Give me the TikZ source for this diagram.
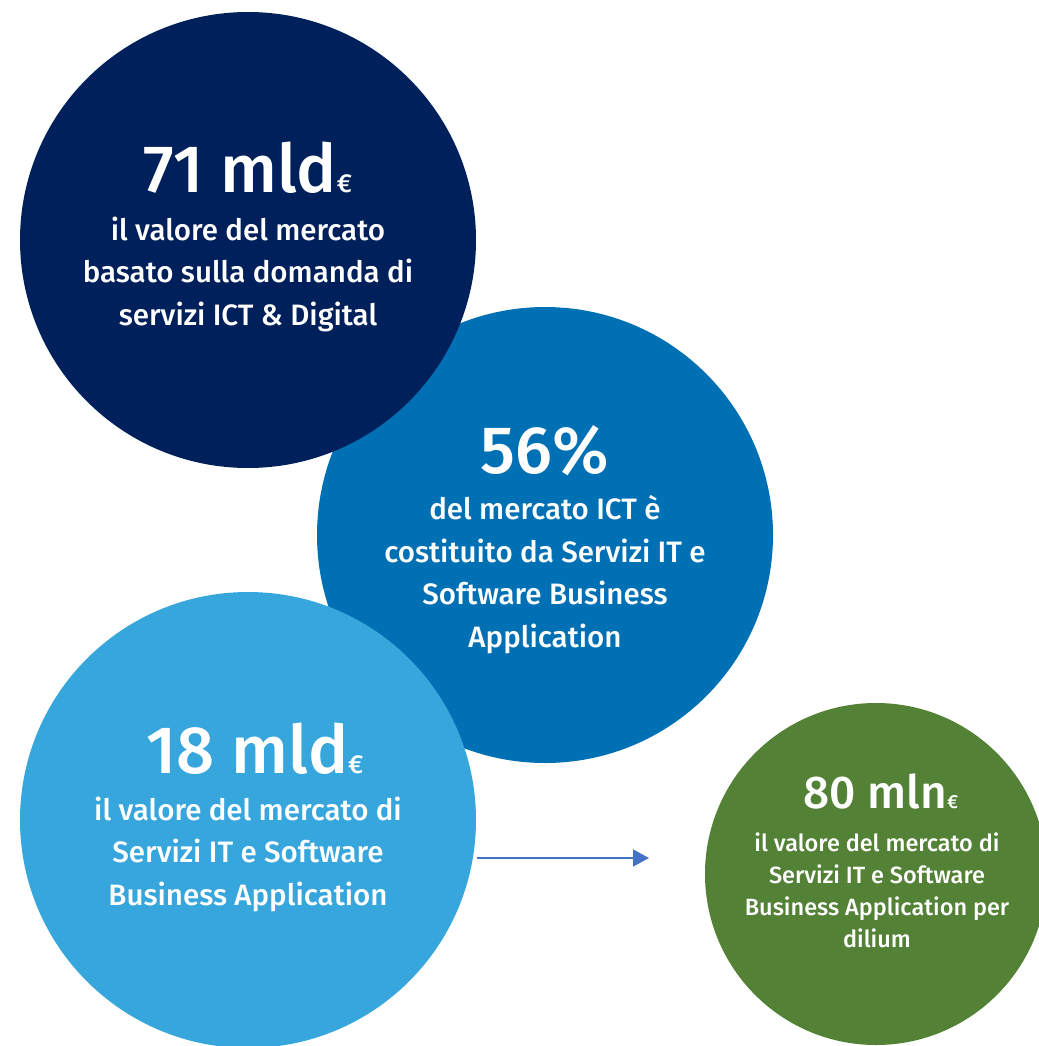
\documentclass[tikz,border=0pt]{standalone}
\usepackage{fontspec}
\setmainfont{Fira Sans}[UprightFont={* Medium}]
\usetikzlibrary{positioning}
\usetikzlibrary{arrows.meta}
\definecolor{navyc}{RGB}{0,32,91}
\definecolor{midblue}{RGB}{0,112,180}
\definecolor{skyblue}{RGB}{54,166,221}
\definecolor{leafgreen}{RGB}{83,129,53}
\definecolor{arrowc}{RGB}{68,114,196}
\tikzset{
	bubble/.style={circle, draw=none, inner sep=0pt, minimum size=456pt},
	bigfig/.style={text=white, inner sep=0pt, anchor=base, font=\fontsize{67}{67}\selectfont},
	smallfig/.style={text=white, inner sep=0pt, anchor=base, font=\fontsize{46}{46}\selectfont},
	bodytxt/.style={text=white, inner sep=0pt, anchor=base, align=center, font=\fontsize{29.5}{42.5}\selectfont},
	smalltxt/.style={text=white, inner sep=0pt, anchor=base, align=center, font=\fontsize{23.5}{32}\selectfont}
}
\newcommand{\eur}[1]{{\fontsize{#1}{#1}\selectfont €}}

\begin{document}
\begin{tikzpicture}[x=1pt,y=1pt]
	\useasboundingbox (0,0) rectangle (1038,-1046);

	\node[bubble, fill=midblue] at (545,-535) (ict) {};
	\node[bubble, fill=navyc] at (248,-240) (mkt) {};
	\node[bubble, fill=skyblue] at (248,-820) (srv) {};
	\node[bubble, fill=leafgreen, minimum size=342pt] at (876,-874) (dil) {};

	% last line on the given baseline
	\node[bigfig] at (248,-192) (mktn) {71 mld\eur{26}};
	\node[bodytxt] at (248,-325) (mktt) {il valore del mercato\\basato sulla domanda di\\servizi ICT \& Digital};

	\node[bigfig] at (545,-473) (ictn) {56\%};
	\node[bodytxt] at (545,-647) (ictt) {del mercato ICT è\\costituito da Servizi IT e\\Software Business\\Application};

	\node[bigfig] at (255,-773) (srvn) {18 mld\eur{26}};
	\node[bodytxt] at (248,-905) (srvt) {il valore del mercato di\\Servizi IT e Software\\Business Application};

	\node[smallfig] at (881,-808) (diln) {80 mln\eur{19}};
	\node[smalltxt] at (877,-947) (dilt) {il valore del mercato di\\Servizi IT e Software\\Business Application per\\dilium};

	\coordinate (arrS) at (477,-858);
	\coordinate (arrE) at (649,-858);
	\draw[-{Triangle[length=16pt, width=17pt]}, arrowc, line width=1.5pt] (arrS) -- (arrE);
\end{tikzpicture}
\end{document}
